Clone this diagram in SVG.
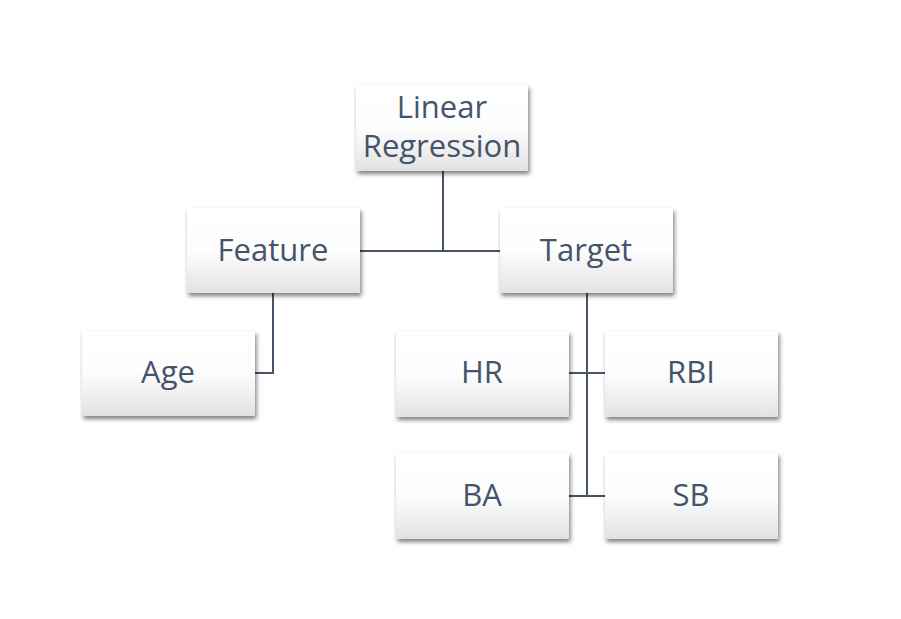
<svg xmlns="http://www.w3.org/2000/svg" width="901" height="619" viewBox="0 0 901 619">
<defs>
<linearGradient id="g" x1="0" y1="0" x2="0" y2="1">
<stop offset="0" stop-color="#ffffff"/>
<stop offset="0.5" stop-color="#fdfdfd"/>
<stop offset="1" stop-color="#e2e2e2"/>
</linearGradient>
<filter id="sh" x="-10%" y="-10%" width="130%" height="140%">
<feDropShadow dx="1.5" dy="3" stdDeviation="2" flood-color="#000" flood-opacity="0.5"/>
</filter>
</defs>
<style>
.box{fill:url(#g);filter:url(#sh);}
.t{font-family:"Open Sans","Liberation Sans",sans-serif;font-size:31px;fill:#44546A;text-anchor:middle;}
.c{stroke:#44546A;stroke-width:2;fill:none;}
</style>
<rect width="901" height="619" fill="#fff"/>
<g id="connectors">
<path class="c" d="M443 171V251M360 251H500"/>
<path class="c" d="M273 293V373H255"/>
<path class="c" d="M587 293V496M569 373H605M569 496H605"/>
</g>
<g id="linear-regression"><rect class="box" x="356" y="85" width="172" height="86"/><text class="t" x="442" y="118">Linear</text><text class="t" x="442" y="157">Regression</text></g>
<g id="feature"><rect class="box" x="187" y="208" width="173" height="85"/><text class="t" x="273" y="261">Feature</text></g>
<g id="target"><rect class="box" x="500" y="208" width="173" height="85"/><text class="t" x="586" y="261">Target</text></g>
<g id="age"><rect class="box" x="82" y="331" width="173" height="85"/><text class="t" x="168" y="383">Age</text></g>
<g id="hr"><rect class="box" x="396" y="331" width="173" height="86"/><text class="t" x="482" y="383">HR</text></g>
<g id="rbi"><rect class="box" x="605" y="331" width="173" height="86"/><text class="t" x="691" y="383">RBI</text></g>
<g id="ba"><rect class="box" x="396" y="453" width="173" height="86"/><text class="t" x="482" y="506">BA</text></g>
<g id="sb"><rect class="box" x="605" y="453" width="173" height="86"/><text class="t" x="691" y="506">SB</text></g>
</svg>
